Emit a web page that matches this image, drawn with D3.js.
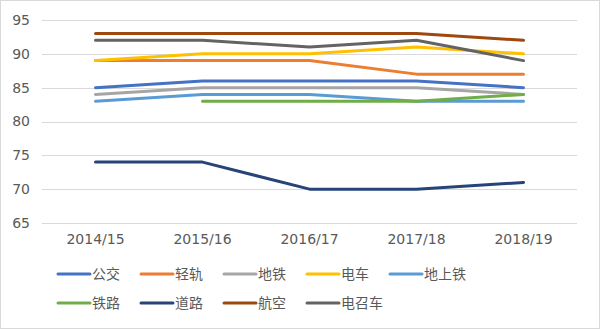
<!DOCTYPE html>
<html><head><meta charset="utf-8">
<script src="https://cdn.jsdelivr.net/npm/d3@7"></script>
<style>body{margin:0;background:#fff;}svg{display:block;font-family:"Noto Sans CJK SC","DejaVu Sans",sans-serif;}</style>
</head><body><svg id="c" width="600" height="329"></svg>
<script>
const categories = ["2014/15","2015/16","2016/17","2017/18","2018/19"];
const seriesNames = ["公交","轻轨","地铁","电车","地上铁","铁路","道路","航空","电召车"];
const colors = ["#4472C4","#ED7D31","#A5A5A5","#FFC000","#5B9BD5","#70AD47","#264478","#9E480E","#636363"];
const v公交 = [85,86,86,86,85];
const v轻轨 = [89,89,89,87,87];
const v地铁 = [84,85,85,85,84];
const v电车 = [89,90,90,91,90];
const v地上铁 = [83,84,84,83,83];
const v铁路 = [null,83,83,83,84];
const v道路 = [74,74,70,70,71];
const v航空 = [93,93,93,93,92];
const v电召车 = [92,92,91,92,89];
const yTicks = [65,70,75,80,85,90,95];
const values = [v公交,v轻轨,v地铁,v电车,v地上铁,v铁路,v道路,v航空,v电召车];

const svg = d3.select("#c");
svg.append("rect").attr("x",0.5).attr("y",0.5).attr("width",599).attr("height",328)
  .attr("fill","#fff").attr("stroke","#d9d9d9");

const x = d3.scaleBand().domain(categories).range([42,577]);
const y = d3.scaleLinear().domain([65,95]).range([223,20]);

const grid = svg.append("g");
grid.selectAll("line").data(yTicks).join("line")
  .attr("x1",42).attr("x2",577).attr("y1",d=>Math.round(y(d))+0.5).attr("y2",d=>Math.round(y(d))+0.5)
  .attr("stroke","#d9d9d9").attr("stroke-width",1);

const yAxis = svg.append("g").attr("transform","translate(42,0)")
  .call(d3.axisLeft(y).tickValues(yTicks).tickSize(0).tickPadding(12));
yAxis.select(".domain").remove();
yAxis.selectAll("text").attr("fill","#595959").style("font-size","14px").style("font-family","'DejaVu Sans',sans-serif");

const xAxis = svg.append("g").attr("transform","translate(0,223)")
  .call(d3.axisBottom(x).tickSize(0).tickPadding(11));
xAxis.select(".domain").remove();
xAxis.selectAll("text").attr("fill","#595959").style("font-size","14px").style("font-family","'DejaVu Sans',sans-serif");

const line = d3.line().defined(d=>d[1]!=null)
  .x(d=>x(d[0])+x.bandwidth()/2).y(d=>y(d[1]));

values.forEach((vals,i)=>{
  svg.append("path").datum(categories.map((c,j)=>[c,vals[j]]))
    .attr("d",line).attr("fill","none").attr("stroke",colors[i])
    .attr("stroke-width",3).attr("stroke-linecap","round").attr("stroke-linejoin","round");
});

const leg = svg.append("g");
seriesNames.forEach((n,i)=>{
  const row = Math.floor(i/5), col = i%5;
  const lx = 58 + col*83, ly = 274 + row*29;
  leg.append("line").attr("x1",lx).attr("x2",lx+32).attr("y1",ly).attr("y2",ly)
    .attr("stroke",colors[i]).attr("stroke-width",3).attr("stroke-linecap","round");
  leg.append("text").attr("x",lx+34).attr("y",ly).attr("dy","0.36em")
    .attr("fill","#595959").style("font-size","14px").text(n);
});
</script></body></html>
